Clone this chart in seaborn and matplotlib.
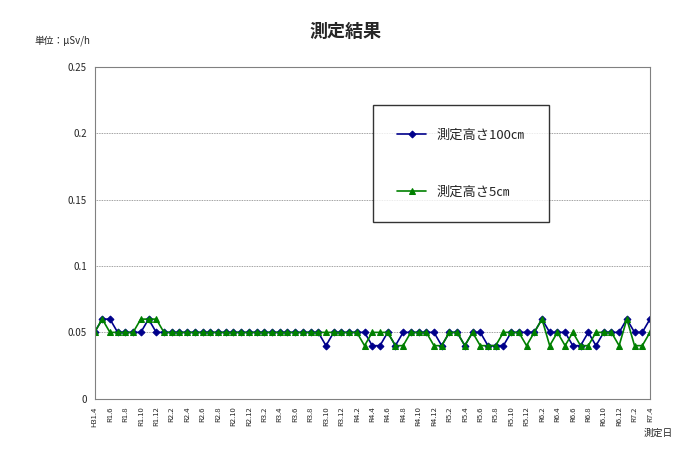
import matplotlib
matplotlib.use("Agg")
import matplotlib.pyplot as plt
import seaborn as sns
import pandas as pd

sns.set_style("white")
plt.rcParams['font.family'] = ['Noto Sans CJK JP', 'DejaVu Sans']

months = []
for i in range(73):
    y, m = 2019 + (3 + i) // 12, (3 + i) % 12 + 1
    months.append(f"H31.{m}" if (y == 2019 and m == 4) else f"R{y-2018}.{m}")

h100 = [0.05,0.06,0.06,0.05,0.05,0.05,0.05,0.06,0.05] + [0.05]*21 + [0.04,0.05,0.05,0.05,0.05,0.05,
        0.04,0.04,0.05,0.04,0.05,0.05,0.05,0.05,0.05,0.04,0.05,0.05,0.04,0.05,0.05,0.04,0.04,0.04,
        0.05,0.05,0.05,0.05,0.06,0.05,0.05,0.05,0.04,0.04,0.05,0.04,0.05,0.05,0.05,0.06,0.05,0.05,0.06]
h5 = [0.05,0.06,0.05,0.05,0.05,0.05,0.06,0.06,0.06] + [0.05]*21 + [0.05,0.05,0.05,0.05,0.05,0.04,
        0.05,0.05,0.05,0.04,0.04,0.05,0.05,0.05,0.04,0.04,0.05,0.05,0.04,0.05,0.04,0.04,0.04,0.05,
        0.05,0.05,0.04,0.05,0.06,0.04,0.05,0.04,0.05,0.04,0.04,0.05,0.05,0.05,0.04,0.06,0.04,0.04,0.05]

df = pd.DataFrame({"idx": range(73), "測定高さ100㎝": h100, "測定高さ5㎝": h5})

fig = plt.figure(figsize=(6.9, 4.61), dpi=100)
ax = fig.add_axes([0.137, 0.135, 0.805, 0.72])
sns.lineplot(data=df, x="idx", y="測定高さ100㎝", ax=ax, color="#00008B", marker="D",
             markersize=3.5, linewidth=1.2, label="測定高さ100㎝", markeredgecolor="#00008B")
sns.lineplot(data=df, x="idx", y="測定高さ5㎝", ax=ax, color="#008000", marker="^",
             markersize=4.5, linewidth=1.2, label="測定高さ5㎝", markeredgecolor="#008000")
ax.set_xlim(0, 72)
ax.set_ylim(0, 0.25)
ax.set_yticks([0, 0.05, 0.1, 0.15, 0.2, 0.25])
ax.set_yticklabels(["0", "0.05", "0.1", "0.15", "0.2", "0.25"], fontsize=7)
ax.set_xticks(range(0, 73, 2))
ax.set_xticklabels(months[::2], rotation=90, fontsize=5.5)
ax.tick_params(axis='both', length=2, direction='out')
ax.yaxis.grid(True, linestyle=(0, (1, 1)), color="gray", linewidth=0.6)
ax.set_xlabel("")
ax.set_ylabel("")
for s in ax.spines.values():
    s.set_color("gray")
leg = ax.legend(loc="upper left", bbox_to_anchor=(0.49, 0.905), fontsize=9.5, frameon=True,
                fancybox=False, edgecolor="black", borderpad=1.8, labelspacing=3.3, handlelength=2.2)
fig.text(0.5, 0.92, "測定結果", ha="center", fontsize=13, fontweight="bold")
fig.text(0.05, 0.905, "単位：μSv/h", fontsize=7)
fig.text(0.975, 0.055, "測定日", ha="right", fontsize=7)
fig.savefig("out.png")
